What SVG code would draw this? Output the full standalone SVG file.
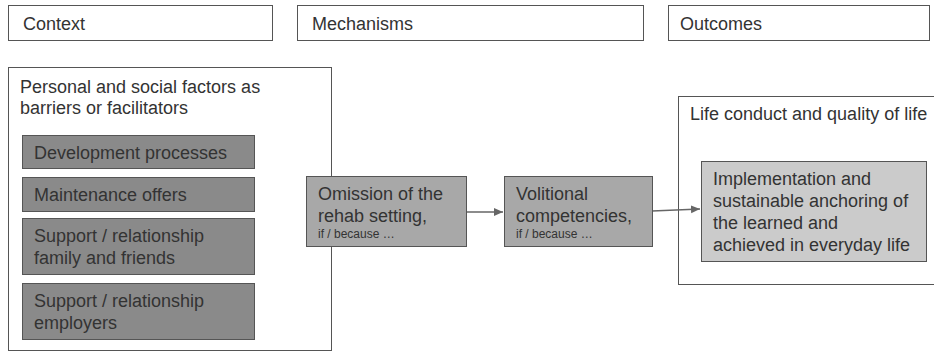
<svg xmlns="http://www.w3.org/2000/svg" width="934" height="352" viewBox="0 0 934 352">
<defs>
<style>
text{font-family:"Liberation Sans",Arial,sans-serif;font-size:18px;fill:#333}
.small{font-size:12px}
.hdr{fill:#fff;stroke:#555;stroke-width:1}
.frame{fill:#fff;stroke:#555;stroke-width:1}
.dark{fill:#8a8a8a;stroke:#555;stroke-width:1}
.mid{fill:#a8a8a8;stroke:#555;stroke-width:1}
.light{fill:#cbcbcb;stroke:#555;stroke-width:1}
.conn{stroke:#666;stroke-width:1.5;fill:none}
</style>
<marker id="arr" markerWidth="10" markerHeight="10" refX="9" refY="5" orient="auto" markerUnits="userSpaceOnUse">
<path d="M0,1 L9,5 L0,9 Z" fill="#666"/>
</marker>
</defs>
<rect width="934" height="352" fill="#fff"/>
<g id="hdr-context"><rect class="hdr" x="8.5" y="5.5" width="264" height="35"/><text x="23" y="30">Context</text></g>
<g id="hdr-mechanisms"><rect class="hdr" x="297.5" y="5.5" width="346" height="35"/><text x="312" y="30">Mechanisms</text></g>
<g id="hdr-outcomes"><rect class="hdr" x="668.5" y="5.5" width="261" height="35"/><text x="680" y="30">Outcomes</text></g>
<g id="context">
<rect class="frame" x="8.5" y="67.5" width="323" height="283"/>
<text x="20" y="93">Personal and social factors as</text>
<text x="20" y="114">barriers or facilitators</text>
</g>
<g id="dev"><rect class="dark" x="22.5" y="135.5" width="232" height="33"/><text x="34" y="159">Development processes</text></g>
<g id="maint"><rect class="dark" x="22.5" y="177.5" width="232" height="34"/><text x="34" y="201">Maintenance offers</text></g>
<g id="family"><rect class="dark" x="22.5" y="218.5" width="232" height="56"/><text x="34" y="242">Support / relationship</text><text x="34" y="264">family and friends</text></g>
<g id="employers"><rect class="dark" x="22.5" y="283.5" width="232" height="56"/><text x="34" y="307">Support / relationship</text><text x="34" y="329">employers</text></g>
<g id="outcome-frame">
<rect class="frame" x="678.5" y="96.5" width="262" height="188"/>
<text x="690" y="120">Life conduct and quality of life</text>
</g>
<g id="connectors">
<line class="conn" x1="466" y1="212" x2="503" y2="212" marker-end="url(#arr)"/>
<line class="conn" x1="652" y1="211" x2="700" y2="209" marker-end="url(#arr)"/>
</g>
<g id="omission"><rect class="mid" x="306.5" y="176.5" width="160" height="70"/><text x="318" y="200">Omission of the</text><text x="318" y="222">rehab setting,</text><text class="small" x="318" y="238">if / because …</text></g>
<g id="volitional"><rect class="mid" x="504.5" y="176.5" width="148" height="70"/><text x="516" y="200">Volitional</text><text x="516" y="222">competencies,</text><text class="small" x="516" y="238">if / because …</text></g>
<g id="implementation"><rect class="light" x="701.5" y="161.5" width="225" height="100"/><text x="713" y="185">Implementation and</text><text x="713" y="207">sustainable anchoring of</text><text x="713" y="229">the learned and</text><text x="713" y="251">achieved in everyday life</text></g>
</svg>
